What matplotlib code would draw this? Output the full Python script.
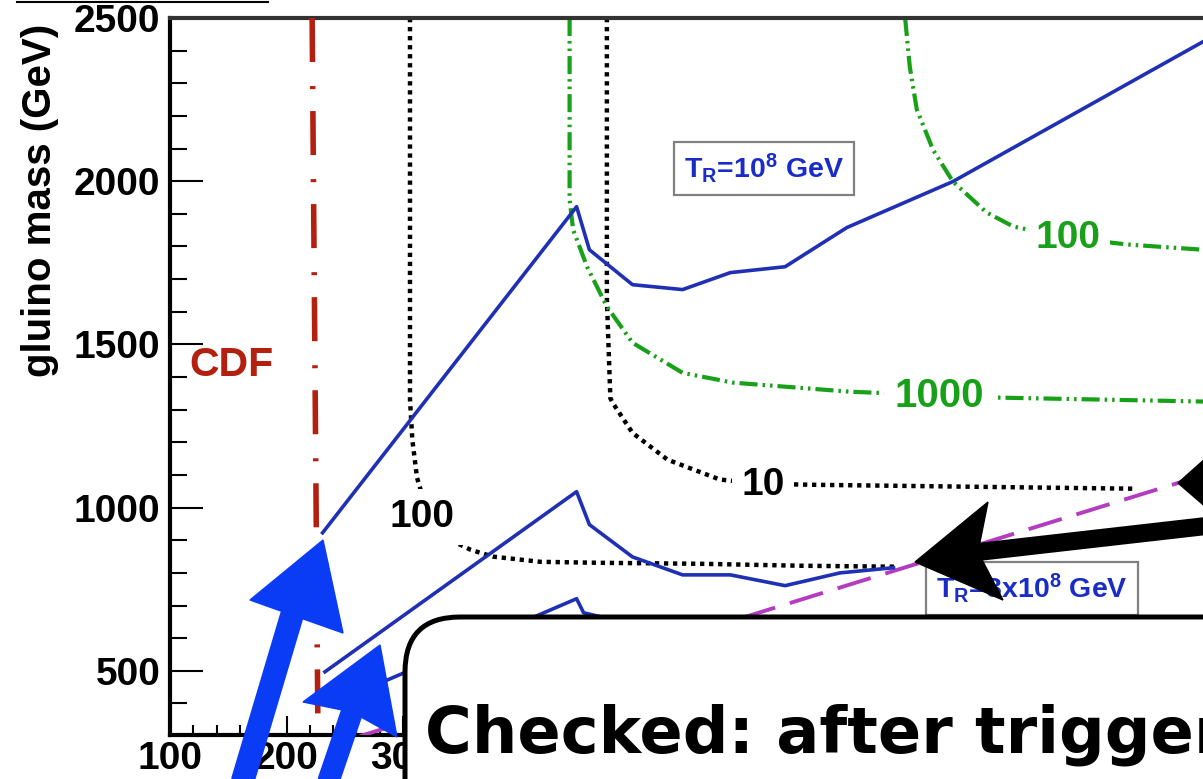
import matplotlib.pyplot as plt
from matplotlib.patches import FancyBboxPatch, Polygon
from matplotlib.lines import Line2D
from matplotlib.transforms import IdentityTransform
from matplotlib.ticker import MultipleLocator

plt.rcParams['font.family'] = ['Liberation Sans', 'DejaVu Sans']
plt.rcParams['lines.scale_dashes'] = False
plt.rcParams['mathtext.fontset'] = 'custom'
plt.rcParams['mathtext.rm'] = 'Liberation Sans:bold'
plt.rcParams['mathtext.it'] = 'Liberation Sans:bold'
plt.rcParams['mathtext.bf'] = 'Liberation Sans:bold'

# limit curves (neutralino mass vs gluino mass)
tr1_x = [231, 449, 460, 497, 540, 581, 628, 681, 772, 987]
tr1_y = [923, 1922, 1790, 1683, 1668, 1720, 1738, 1858, 1999, 2428]

tr3_x = [233, 449, 460, 497, 540, 581, 628, 675, 721]
tr3_y = [497, 1049, 948, 849, 794, 794, 761, 800, 816]

tr10_x = [237, 449, 455, 500]
tr10_y = [396, 721, 678, 640]

# kinematic boundary
kin_x = [263, 1000]
kin_y = [300, 1114]

# CDF exclusion
cdf_x = [222, 227]
cdf_y = [2500, 305]

# black dotted contours
dot100_x = [306, 306, 308, 312, 319, 328, 340, 358, 377, 418, 469, 555, 641, 724]
dot100_y = [2500, 1331, 1208, 1092, 1009, 947, 902, 871, 850, 834, 831, 828, 822, 819]
dot10_x = [475, 475, 478, 480, 497, 527, 572, 609, 652, 927]
dot10_y = [2500, 1640, 1335, 1321, 1229, 1147, 1086, 1073, 1070, 1058]

# green dash-dot-dot contours
g1000_x = [443, 443, 446, 458, 475, 497, 540, 583, 684, 812, 987]
g1000_y = [2500, 1944, 1852, 1738, 1616, 1505, 1413, 1383, 1355, 1337, 1325]
g100_x = [731, 735, 741, 755, 772, 801, 824, 871, 922, 987]
g100_y = [2500, 2351, 2220, 2096, 1999, 1904, 1861, 1827, 1806, 1790]

x_ticks = list(range(100, 1001, 100))
x_ticklabels = ['100', '200', '300', '', '', '', '', '', '', '']

W, H = 1203, 779
fig = plt.figure(figsize=(W / 100, H / 100), dpi=100)
ax = fig.add_axes([170 / W, 44.5 / H, 1048.5 / W, 716.5 / H])
ax.set_xlim(100, 1000)
ax.set_ylim(305, 2500)

blue = '#1f30b4'
green = '#18a018'
ax.plot(tr1_x, tr1_y, color=blue, lw=2.6, zorder=4)
ax.plot(tr3_x, tr3_y, color=blue, lw=2.6, zorder=4)
ax.plot(tr10_x, tr10_y, color=blue, lw=2.6, zorder=4)
ax.plot(kin_x, kin_y, color='#b43cbe', lw=2.8, linestyle=(0, (25, 11)), zorder=3)
ax.plot(cdf_x, cdf_y, color='#b4200f', lw=4, linestyle=(0, (31.7, 17.3, 2.2, 15.8)), zorder=3)
dstyle = (0, (3.1, 3.4))
ax.plot(dot100_x, dot100_y, color='black', lw=3.2, linestyle=dstyle, zorder=2)
ax.plot(dot10_x, dot10_y, color='black', lw=3.2, linestyle=dstyle, zorder=2)
gstyle = (0, (13, 3.6, 1.8, 3.6, 1.8, 3.6))
ax.plot(g1000_x, g1000_y, color=green, lw=3, linestyle=gstyle, zorder=2)
ax.plot(g100_x, g100_y, color=green, lw=3, linestyle=gstyle, zorder=2)

lab_box = dict(boxstyle='square,pad=0.25', fc='white', ec='none')
ax.text(316, 971, '100', fontsize=28, fontweight='bold', ha='center', va='center', bbox=lab_box, zorder=5)
ax.text(609, 1069, '10', fontsize=28, fontweight='bold', ha='center', va='center', bbox=lab_box, zorder=5)
ax.text(760, 1342, '1000', fontsize=29, fontweight='bold', color=green, ha='center', va='center', bbox=lab_box, zorder=5)
ax.text(871, 1826, '100', fontsize=28, fontweight='bold', color=green, ha='center', va='center', bbox=lab_box, zorder=5)
ax.text(153, 1437, 'CDF', fontsize=29.5, fontweight='bold', color='#b4200f', ha='center', va='center', zorder=5)

tr_box = dict(boxstyle='square,pad=0.35', fc='white', ec='#808080', lw=1.6)
ax.text(610, 2039, r'$\mathrm{T_R}$=10$^\mathrm{8}$ GeV', fontsize=20.5, fontweight='bold', color='#1a2cc8',
        ha='center', va='center', bbox=tr_box, zorder=6)
ax.text(840, 752, r'$\mathrm{T_R}$=3x10$^\mathrm{8}$ GeV', fontsize=20.5, fontweight='bold', color='#1a2cc8',
        ha='center', va='center', bbox=tr_box, zorder=6)

ax.set_xticks(x_ticks)
ax.set_xticklabels(x_ticklabels)
ax.xaxis.set_minor_locator(MultipleLocator(20))
ax.set_yticks([500, 1000, 1500, 2000, 2500])
ax.yaxis.set_minor_locator(MultipleLocator(100))
ax.tick_params(axis='both', which='both', direction='in', labelsize=28, colors='black', width=1.5)
ax.tick_params(axis='y', which='major', length=23.5, pad=7)
ax.tick_params(axis='y', which='minor', length=12)
ax.tick_params(axis='x', which='major', length=13.5, pad=5)
ax.tick_params(axis='x', which='minor', length=7)
for lab in ax.get_xticklabels() + ax.get_yticklabels():
    lab.set_fontweight('bold')
for side in ['left', 'bottom']:
    ax.spines[side].set_linewidth(3)
ax.spines['top'].set_linewidth(3)
ax.spines['top'].set_color('#333333')
ax.spines['right'].set_visible(False)

fig.text(40 / W, 1 - 200 / H, 'gluino mass (GeV)', rotation=90, fontsize=29,
         fontweight='bold', ha='center', va='center')

# cropped underline at the top left
fig.add_artist(Line2D([17 / W, 268 / W], [1 - 1.5 / H] * 2, transform=fig.transFigure, color='black', lw=1.5))

# callout box over the lower part
pix = IdentityTransform()
callout = FancyBboxPatch((405, -100), 1000, 100 + (H - 617), boxstyle='round,pad=0,rounding_size=55',
                         fc='white', ec='black', lw=3.6, transform=pix, zorder=8)
fig.add_artist(callout)
fig.text(425 / W, (H - 753) / H, 'Checked: after trigger', fontsize=46, fontweight='bold',
         family='DejaVu Sans', ha='left', va='baseline', zorder=9)


def hand_arrow(tail, base, tip, left, right, width, color):
    # coordinates in image pixels, measured from the top left corner
    fig.add_artist(Line2D([tail[0], base[0]], [H - tail[1], H - base[1]], lw=width, color=color,
                          solid_capstyle='round', transform=pix, zorder=10))
    pts = [(tip[0], H - tip[1]), (left[0], H - left[1]), (base[0], H - base[1]), (right[0], H - right[1])]
    fig.add_artist(Polygon(pts, closed=True, fc=color, ec=color, lw=1, transform=pix, zorder=10))


hand_arrow((237, 800), (292, 615), (323, 540), (250, 600), (343, 633), 17, '#0a3cf5')
hand_arrow((322, 800), (352, 712), (380, 645), (303, 702), (397, 737), 16, '#0a3cf5')
hand_arrow((1215, 525), (978, 552), (915, 562), (988, 502), (1003, 600), 13, 'black')
hand_arrow((1240, 483), (1215, 483), (1178, 483), (1215, 450), (1215, 515), 13, 'black')

fig.savefig('out.png', dpi=100)
